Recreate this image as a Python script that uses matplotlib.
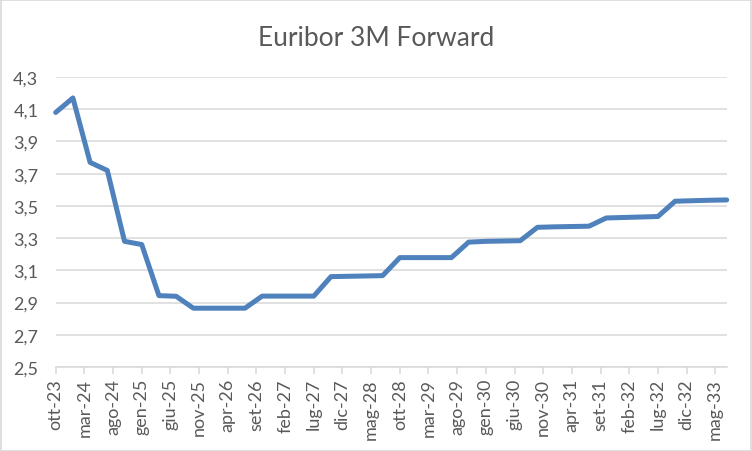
import matplotlib
matplotlib.use("Agg")
import matplotlib.pyplot as plt
from matplotlib.patches import Rectangle

# Quarterly observation dates (year, month)
dates = [(2023, 10), (2024, 1), (2024, 4), (2024, 7), (2024, 10),
         (2025, 1), (2025, 4), (2025, 7), (2025, 10),
         (2026, 1), (2026, 4), (2026, 7), (2026, 10),
         (2027, 1), (2027, 4), (2027, 7), (2027, 10),
         (2028, 1), (2028, 4), (2028, 7), (2028, 10),
         (2029, 1), (2029, 4), (2029, 7), (2029, 10),
         (2030, 1), (2030, 4), (2030, 7), (2030, 10),
         (2031, 1), (2031, 4), (2031, 7), (2031, 10),
         (2032, 1), (2032, 4), (2032, 7), (2032, 10),
         (2033, 1), (2033, 4), (2033, 7)]

euribor = [4.08, 4.17, 3.77, 3.72, 3.28,
           3.26, 2.943, 2.939, 2.865,
           2.865, 2.865, 2.865, 2.94,
           2.94, 2.94, 2.94, 3.061,
           3.063, 3.065, 3.067, 3.179,
           3.179, 3.179, 3.179, 3.275,
           3.28, 3.282, 3.284, 3.367,
           3.37, 3.372, 3.374, 3.425,
           3.428, 3.431, 3.434, 3.529,
           3.532, 3.535, 3.537]

tick_labels = ["ott-23", "mar-24", "ago-24", "gen-25", "giu-25", "nov-25",
               "apr-26", "set-26", "feb-27", "lug-27", "dic-27", "mag-28",
               "ott-28", "mar-29", "ago-29", "gen-30", "giu-30", "nov-30",
               "apr-31", "set-31", "feb-32", "lug-32", "dic-32", "mag-33"]

y_ticks = [2.5, 2.7, 2.9, 3.1, 3.3, 3.5, 3.7, 3.9, 4.1, 4.3]

title = "Euribor 3M Forward"

start_year, start_month = dates[0]
x = [(y - start_year) * 12 + (m - start_month) for (y, m) in dates]
tick_pos = [5 * i for i in range(len(tick_labels))]

plt.rcParams['font.family'] = ['Lato', 'DejaVu Sans']

W, H = 752, 452
fig = plt.figure(figsize=(W / 100, H / 100), dpi=100)
left, right, top, bottom = 55.7, 726.7, 78, 368
ax = fig.add_axes([left / W, 1 - bottom / H, (right - left) / W, (bottom - top) / H])

grid_c = "#d9d9d9"
text_c = "#595959"

ax.plot(x, euribor, color="#4f81bd", lw=3.6, solid_joinstyle="round",
        solid_capstyle="round", zorder=3, clip_on=False)

ax.set_xlim(0, x[-1])
ax.set_ylim(y_ticks[0], y_ticks[-1])
ax.set_yticks(y_ticks)
ax.set_yticklabels([f"{v:.1f}".replace(".", ",") for v in y_ticks])
ax.set_xticks(tick_pos)
ax.set_xticklabels(tick_labels, rotation=90)

ax.grid(axis="y", color=grid_c, lw=1.1, zorder=1)
for s in ["top", "right", "left"]:
    ax.spines[s].set_visible(False)
ax.spines["bottom"].set_color(grid_c)
ax.spines["bottom"].set_linewidth(1.1)
ax.spines["bottom"].set_zorder(1)

ax.tick_params(axis="y", length=0, pad=12.5, labelsize=13, labelcolor=text_c)
ax.tick_params(axis="x", length=5, width=1.1, color=grid_c, direction="out",
               pad=3, labelsize=13, labelcolor=text_c)

fig.text(376 / W, 1 - 38 / H, title, ha="center", va="center",
         fontsize=19, color=text_c)

fig.patches.append(Rectangle((0.5 / W, 0.5 / H), 1 - 1.5 / W, 1 - 1.5 / H,
                             transform=fig.transFigure, fill=False,
                             edgecolor=grid_c, lw=1.2))

fig.savefig("out.png", dpi=100)
